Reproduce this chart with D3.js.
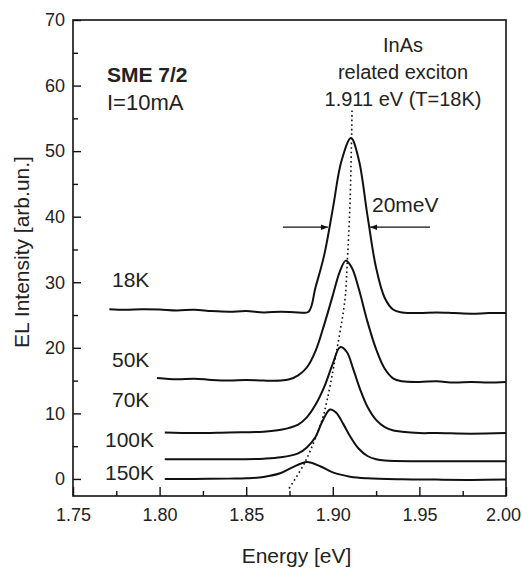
<!DOCTYPE html>
<html>
<head>
<meta charset="utf-8">
<title>EL spectra vs temperature</title>
<style>
  body { margin: 0; background: #fff; }
  svg { display: block; font-family: "Liberation Sans", Arial, sans-serif; }
  .axis text { font-size: 18px; fill: #222; }
  .axis line { stroke: #111; stroke-width: 1.4; }
  .axis path { display: none; }
  .spectrum { fill: none; stroke: #111; stroke-width: 2; }
  .lbl { fill: #222; }
</style>
</head>
<body>
<div id="chart"></div>
<script src="https://d3js.org/d3.v7.min.js"></script>
<script>
// spectra: [energy eV, EL intensity arb.un.]
var spec18K = [
  [1.771, 25.9], [1.78, 25.8], [1.79, 25.9], [1.80, 25.85], [1.81, 25.7], [1.82, 25.8],
  [1.83, 25.6], [1.84, 25.5], [1.85, 25.6], [1.86, 25.4], [1.87, 25.5], [1.88, 25.4],
  [1.886, 25.5], [1.890, 29.2], [1.895, 34.1], [1.900, 41.2], [1.905, 48.5], [1.9105, 52.0],
  [1.915, 48.7], [1.920, 40.2], [1.925, 32.2], [1.930, 27.6], [1.935, 25.8], [1.94, 25.4],
  [1.95, 25.3], [1.96, 25.4], [1.97, 25.3], [1.98, 25.2], [1.99, 25.3], [2.00, 25.3]
];
var spec50K = [
  [1.7985, 15.4], [1.81, 15.2], [1.82, 15.3], [1.83, 15.1], [1.84, 15.0], [1.85, 15.1],
  [1.86, 15.0], [1.87, 15.0], [1.875, 15.2], [1.880, 15.8], [1.885, 17.0], [1.890, 19.5],
  [1.895, 23.5], [1.900, 28.0], [1.904, 31.6], [1.9075, 33.3], [1.911, 32.2], [1.915, 29.0],
  [1.920, 24.0], [1.925, 19.8], [1.930, 16.8], [1.935, 15.3], [1.94, 14.9], [1.95, 14.8],
  [1.96, 14.9], [1.97, 14.7], [1.98, 14.8], [1.99, 14.7], [2.00, 14.8]
];
var spec70K = [
  [1.803, 7.1], [1.82, 7.0], [1.84, 7.1], [1.86, 7.2], [1.87, 7.5], [1.88, 8.3],
  [1.885, 9.4], [1.890, 11.3], [1.895, 14.0], [1.900, 17.6], [1.9042, 20.1], [1.908, 19.4],
  [1.912, 16.6], [1.916, 13.5], [1.920, 11.0], [1.925, 9.0], [1.930, 7.9], [1.935, 7.4],
  [1.94, 7.2], [1.95, 7.0], [1.96, 7.0], [1.98, 6.9], [2.00, 7.0]
];
var spec100K = [
  [1.803, 3.0], [1.82, 3.0], [1.84, 3.0], [1.86, 3.1], [1.87, 3.3], [1.88, 3.9],
  [1.885, 4.8], [1.890, 6.4], [1.894, 8.8], [1.8984, 10.6], [1.902, 10.1], [1.906, 8.4],
  [1.910, 6.5], [1.915, 4.6], [1.920, 3.5], [1.925, 3.0], [1.93, 2.8], [1.95, 2.7],
  [1.97, 2.7], [2.00, 2.7]
];
var spec150K = [
  [1.803, 0.0], [1.82, 0.0], [1.84, 0.05], [1.85, 0.1], [1.86, 0.3], [1.87, 0.9],
  [1.877, 1.8], [1.885, 2.6], [1.893, 1.9], [1.900, 1.0], [1.910, 0.35], [1.92, 0.1],
  [1.94, -0.05], [1.96, -0.1], [1.98, -0.15], [2.00, -0.1]
];
// dotted guide through the peak maxima
var peakShift = [
  [1.9111, 56.2], [1.9100, 42.5], [1.9082, 32.3], [1.9070, 27.3], [1.9005, 17.1],
  [1.8967, 12.0], [1.8938, 9.0], [1.8840, 2.6], [1.8741, -1.7]
];
// FWHM arrows: [from energy, to energy] at intensity fwhmLevel
var fwhmArrows = [[1.8712, 1.8972], [1.9561, 1.9215]];
var fwhmLevel = 38.4;

var xMajor = [1.75, 1.80, 1.85, 1.90, 1.95, 2.00];
var xMinor = [1.775, 1.825, 1.875, 1.925, 1.975];
var yMajor = [0, 10, 20, 30, 40, 50, 60, 70];
var yMinor = [5, 15, 25, 35, 45, 55, 65];

var margin = {top: 20, right: 16, bottom: 76, left: 73},
    width = 522 - margin.left - margin.right,
    height = 572 - margin.top - margin.bottom;

var svg = d3.select("#chart")
  .append("svg")
    .attr("width", 522)
    .attr("height", 572)
  .append("g")
    .attr("transform", "translate(" + margin.left + "," + margin.top + ")");

var x = d3.scaleLinear().domain([1.75, 2.00]).range([0, width]);
var y = d3.scaleLinear().domain([-2.6, 70]).range([height, 0]);

// axes, ticks pointing inwards
var xAxis = svg.append("g")
  .attr("class", "axis")
  .attr("transform", "translate(0," + height + ")")
  .call(d3.axisBottom(x).tickValues(xMajor).tickFormat(d3.format(".2f"))
    .tickSizeInner(-9).tickSizeOuter(0).tickPadding(12));
// last label sits tight against the right edge
xAxis.selectAll(".tick text").filter(function(d) { return d === 2.00; }).attr("dx", -3);
svg.append("g")
  .attr("class", "axis")
  .attr("transform", "translate(0," + height + ")")
  .call(d3.axisBottom(x).tickValues(xMinor).tickFormat("").tickSizeInner(-5).tickSizeOuter(0));
svg.append("g")
  .attr("class", "axis")
  .call(d3.axisLeft(y).tickValues(yMajor).tickSizeInner(-8).tickSizeOuter(0).tickPadding(8));
svg.append("g")
  .attr("class", "axis")
  .call(d3.axisLeft(y).tickValues(yMinor).tickFormat("").tickSizeInner(-5).tickSizeOuter(0));

// frame
svg.append("rect")
  .attr("width", width)
  .attr("height", height)
  .attr("fill", "none")
  .attr("stroke", "#111")
  .attr("stroke-width", 1.6);

var line = d3.line()
  .x(function(d) { return x(d[0]); })
  .y(function(d) { return y(d[1]); })
  .curve(d3.curveCatmullRom.alpha(0.5));

[spec18K, spec50K, spec70K, spec100K, spec150K].forEach(function(s) {
  svg.append("path").attr("class", "spectrum").attr("d", line(s));
});

svg.append("path")
  .attr("d", line(peakShift))
  .attr("fill", "none")
  .attr("stroke", "#111")
  .attr("stroke-width", 1.6)
  .attr("stroke-dasharray", "1.6,3");

// arrows
var defs = svg.append("defs");
defs.append("marker")
  .attr("id", "head")
  .attr("viewBox", "0 0 10 10")
  .attr("refX", 10).attr("refY", 5)
  .attr("markerWidth", 10).attr("markerHeight", 7)
  .attr("markerUnits", "userSpaceOnUse")
  .attr("orient", "auto")
  .append("path").attr("d", "M0,1 L10,5 L0,9 Z").attr("fill", "#111");
fwhmArrows.forEach(function(a) {
  svg.append("line")
    .attr("x1", x(a[0])).attr("x2", x(a[1]))
    .attr("y1", y(fwhmLevel)).attr("y2", y(fwhmLevel))
    .attr("stroke", "#111").attr("stroke-width", 1.3)
    .attr("marker-end", "url(#head)");
});

// text
function label(txt, px, py, size, anchor, weight) {
  svg.append("text")
    .attr("class", "lbl")
    .attr("x", px).attr("y", py)
    .attr("font-size", size)
    .attr("text-anchor", anchor || "start")
    .attr("font-weight", weight || "normal")
    .text(txt);
}
label("InAs", 330, 32, 20, "middle");
label("related exciton", 330, 59, 20, "middle");
label("1.911 eV (T=18K)", 330, 86, 20, "middle");
label("SME 7/2", 34, 62, 21, "start", "bold");
label("I=10mA", 34, 90, 22);
label("20meV", 299, 192, 21);
label("18K", 39, 267, 21);
label("50K", 39, 347, 21);
label("70K", 39, 387, 21);
label("100K", 32, 427, 21);
label("150K", 32, 460, 21);

svg.append("text")
  .attr("class", "lbl")
  .attr("x", width / 2 + 7)
  .attr("y", height + 67)
  .attr("font-size", 21)
  .attr("text-anchor", "middle")
  .text("Energy [eV]");
svg.append("text")
  .attr("class", "lbl")
  .attr("transform", "translate(-44," + (232) + ")rotate(-90)")
  .attr("font-size", 21)
  .attr("text-anchor", "middle")
  .text("EL Intensity [arb.un.]");
</script>
</body>
</html>
